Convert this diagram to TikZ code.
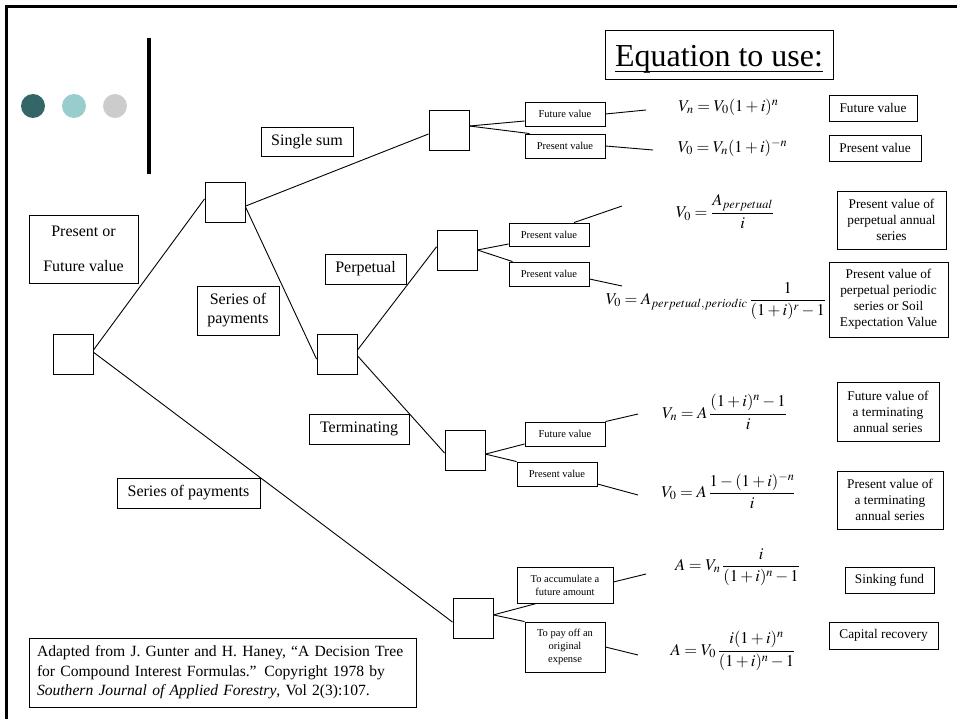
\documentclass[tikz,border=0pt]{standalone}
\usepackage{amsmath}
\usepackage{mathptmx}
\usepackage[no-math]{fontspec}
\setmainfont{Liberation Serif}
\usepackage{tikz}
\usetikzlibrary{positioning}
\definecolor{dotdark}{RGB}{51,102,102}
\definecolor{dotlight}{RGB}{153,204,204}
\definecolor{dotgrey}{RGB}{204,204,204}

\begin{document}
\begin{tikzpicture}[x=1pt, y=-1pt, line width=0.9pt,
    dbox/.style={draw, rectangle, minimum width=40pt, minimum height=40pt, inner sep=0pt},
    lbl/.style={draw, rectangle, inner sep=0pt, align=center, font=\fontsize{16}{19}\selectfont},
    small/.style={draw, rectangle, inner sep=0pt, align=center, minimum width=80pt, minimum height=24pt, font=\fontsize{10.5}{13}\selectfont},
    expl/.style={draw, rectangle, inner sep=0pt, align=center, font=\fontsize{13.3}{16}\selectfont},
    eqn/.style={inner sep=0pt, font=\fontsize{16.5}{20}\selectfont}]
    \useasboundingbox (0,0) rectangle (957,719);
    \draw[line width=3pt] (6,719) -- (6,7) -- (957,7);
    \fill[dotdark] (33,106) circle[radius=12pt];
    \fill[dotlight] (74,106) circle[radius=12pt];
    \fill[dotgrey] (115,106) circle[radius=12pt];
    \draw[line width=4pt] (149,38) -- (149,174);

    % decision boxes
    \node[dbox] (root) at (73,354) {};
    \node[dbox] (split) at (225,202.5) {};
    \node[dbox] (single) at (449,130) {};
    \node[dbox] (series) at (337,354) {};
    \node[dbox] (perp) at (457,250) {};
    \node[dbox] (term) at (465,450.5) {};
    \node[dbox] (fund) at (473,618.5) {};

    % branch labels
    \node[lbl, minimum width=109pt, minimum height=68pt, font=\fontsize{16}{35}\selectfont] (pf) at (83.5,249) {Present or\\Future value};
    \node[lbl, minimum width=92pt, minimum height=29pt] (lsingle) at (307,141.5) {Single sum};
    \node[lbl, minimum width=82pt, minimum height=49pt] (lseries) at (238,310.5) {Series of\\payments};
    \node[lbl, minimum width=81pt, minimum height=30pt] (lperp) at (365.5,269) {Perpetual};
    \node[lbl, minimum width=100pt, minimum height=30pt] (lterm) at (359,429) {Terminating};
    \node[lbl, minimum width=143pt, minimum height=30pt] (lpay) at (188.5,493) {Series of payments};
    \node[lbl, text width=371pt, inner xsep=8pt, minimum height=69pt, align=left, font=\fontsize{15.6}{19.5}\selectfont] (cite) at (222.5,672.5)
        {Adapted from J. Gunter and H. Haney, “A Decision Tree\\for Compound Interest Formulas.” Copyright 1978 by\\\textit{Southern Journal of Applied Forestry}, Vol 2(3):107.};
    \node[lbl, minimum width=228pt, minimum height=49pt, text height=28pt, text depth=3pt, font=\fontsize{32}{38}\selectfont] (title) at (719,54.5) {\underline{\smash[b]{Equation to use:}}};

    % small boxes
    \node[small] (fv1) at (565,114) {Future value};
    \node[small] (pv1) at (565,146) {Present value};
    \node[small, minimum height=23pt] (pv2) at (549,234.5) {Present value};
    \node[small] (pv3) at (549,274) {Present value};
    \node[small] (fv4) at (565,434) {Future value};
    \node[small] (pv5) at (557,474) {Present value};
    \node[small, minimum width=96pt, minimum height=36pt] (acc) at (565,585) {To accumulate a\\future amount};
    \node[small, minimum height=50pt] (pay) at (565,647) {To pay off an\\original\\expense};

    % equations
    \node[eqn] (eq1) at (728.5,107) {$V_n = V_0(1+i)^n$};
    \node[eqn] (eq2) at (732.5,148) {$V_0 = V_n(1+i)^{-n}$};
    \node[eqn] (eq3) at (725,212) {$V_0 = \dfrac{A_{perpetual}}{i}$};
    \node[eqn] (eq4) at (716,301) {$V_0 = A_{perpetual,periodic}\,\dfrac{1}{(1+i)^r-1}$};
    \node[eqn] (eq5) at (724.5,412) {$V_n = A\,\dfrac{(1+i)^n-1}{i}$};
    \node[eqn] (eq6) at (728.5,491) {$V_0 = A\,\dfrac{1-(1+i)^{-n}}{i}$};
    \node[eqn] (eq7) at (737.5,567) {$A = V_n\,\dfrac{i}{(1+i)^n-1}$};
    \node[eqn] (eq8) at (733,651) {$A = V_0\,\dfrac{i(1+i)^n}{(1+i)^n-1}$};

    % what each equation gives
    \node[expl, minimum width=88pt, minimum height=26pt] (r1) at (873,108) {Future value};
    \node[expl, minimum width=92pt, minimum height=26pt] (r2) at (875,148) {Present value};
    \node[expl, minimum width=109pt, minimum height=58pt] (r3) at (891.5,220) {Present value of\\perpetual annual\\series};
    \node[expl, minimum width=119pt, minimum height=75pt] (r4) at (888.5,299.5) {Present value of\\perpetual periodic\\series or Soil\\Expectation Value};
    \node[expl, minimum width=102pt, minimum height=59pt] (r5) at (888,411.5) {Future value of\\a terminating\\annual series};
    \node[expl, minimum width=106pt, minimum height=58pt] (r6) at (890,500) {Present value of\\a terminating\\annual series};
    \node[expl, minimum width=89pt, minimum height=26pt] (r7) at (889.5,580) {Sinking fund};
    \node[expl, minimum width=109pt, minimum height=27pt] (r8) at (883.5,635.5) {Capital recovery};

    % loose ends of the stubs
    \coordinate (e1) at (646,110);
    \coordinate (e2) at (653,150);
    \coordinate (e3) at (622,206);
    \coordinate (e4) at (622,286);
    \coordinate (e5) at (638,414);
    \coordinate (e6) at (638,495);
    \coordinate (e7) at (646,574);
    \coordinate (e8) at (638,655);

    \draw (root.11) -- (split.170);
    \draw (root.5) -- (fund.190);
    \draw (split.-10) -- (single.191);
    \draw (split.-12) -- (series.194);
    \draw (series.11) -- (perp.171);
    \draw (series.-5) -- (term.187);
    \draw (single.11) -- ([yshift=-7pt]fv1.west);
    \draw (single.11) -- ([xshift=5pt]pv1.north west);
    \draw (perp.east) -- ([yshift=-9.5pt]pv2.west);
    \draw (perp.east) -- ([xshift=4pt]pv3.north west);
    \draw (term.-10) -- ([yshift=-10pt]fv4.west);
    \draw (term.-10) -- (pv5.north west);
    \draw (fund.10) -- ([xshift=20pt]acc.south west);
    \draw (fund.10) -- (pay.north west);
    \draw (fv1.east) -- (e1);
    \draw (pv1.east) -- (e2);
    \draw ([xshift=25pt]pv2.north) -- (e3);
    \draw ([yshift=-5pt]pv3.east) -- (e4);
    \draw (fv4.north east) -- (e5);
    \draw ([yshift=-10pt]pv5.east) -- (e6);
    \draw ([yshift=3pt]acc.east) -- (e7);
    \draw (pay.east) -- (e8);
\end{tikzpicture}
\end{document}
